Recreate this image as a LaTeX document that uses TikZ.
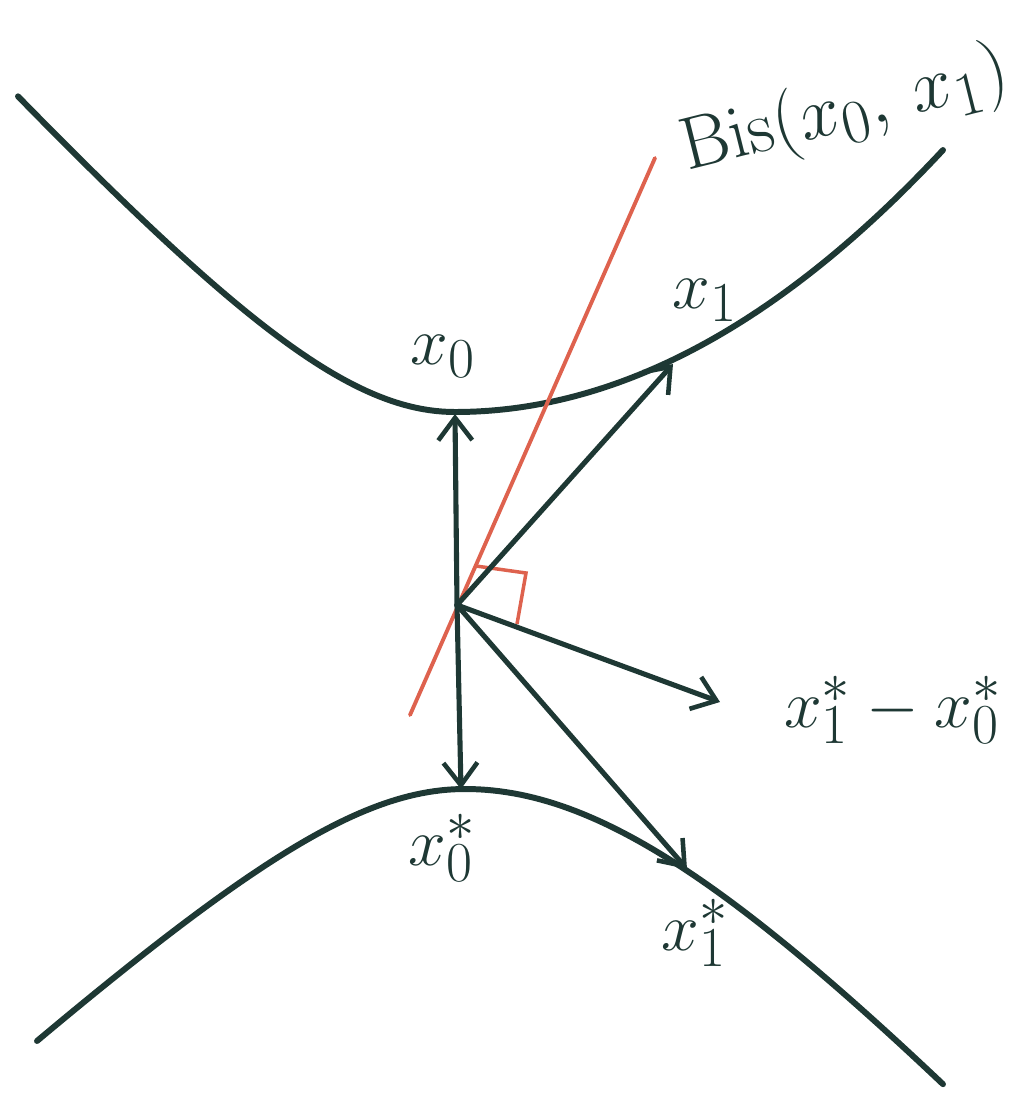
\documentclass[tikz,border=0pt]{standalone}
\usetikzlibrary{arrows.meta}
\definecolor{ink}{RGB}{30,56,52}
\definecolor{redink}{RGB}{222,98,78}
\tikzset{
  curveline/.style={draw=ink, line width=3.4pt, line cap=round, line join=round},
  vecarrow/.style={draw=ink, line width=2.9pt, line cap=round,
    -{Straight Barb[length=0.45cm, width=0.68cm, line width=2.6pt]}},
  bisline/.style={draw=redink, line width=2.2pt, line cap=round},
  anglemark/.style={draw=redink, line width=2pt},
  lbl/.style={text=ink, inner sep=0pt, font=\Huge, scale=1.55},
  bislbl/.style={text=ink, inner sep=0pt, font=\Huge, scale=1.7},
}
\begin{document}
\begin{tikzpicture}[x=0.02cm, y=-0.02cm]
\useasboundingbox (0,0) rectangle (1033,1103);
% points
\coordinate (O) at (457,605);
\coordinate (X0) at (455,414);
\coordinate (X1) at (673,364);
\coordinate (D) at (720,702);
\coordinate (X0s) at (461,789);
\coordinate (X1s) at (687,869);
\coordinate (R1) at (410,715);
\coordinate (R2) at (655,158);
\coordinate (A1) at (476,566);
\coordinate (A2) at (526,573);
\coordinate (A3) at (517,624);
% curves
\draw[curveline] plot[domain=18:455, samples=70]
    (\x, {412-225*(sqrt(1+((\x-455)/200)*((\x-455)/200))-1)})
  -- plot[domain=455:943, samples=70]
    (\x, {412-11*((\x-455)/100)*((\x-455)/100)});
\draw[curveline] plot[domain=37:465, samples=70]
    (\x, {789+185*(sqrt(1+((\x-465)/200)*((\x-465)/200))-1)})
  -- plot[domain=465:943, samples=70]
    (\x, {789+335*(sqrt(1+((\x-465)/300)*((\x-465)/300))-1)});
% bisector
\draw[bisline] (R1) -- (R2);
\draw[anglemark] (A1) -- (A2) -- (A3);
% vectors
\draw[vecarrow] (O) -- (X0);
\draw[vecarrow] (O) -- (X1);
\draw[vecarrow] (O) -- (D);
\draw[vecarrow] (O) -- (X0s);
\draw[vecarrow] (O) -- (X1s);
% labels
\node[bislbl, rotate=14] (lbis) at (845,112) {$\mathrm{Bis}(x_0,\, x_1)$};
\node[lbl] (lx0) at (443,356) {$x_0$};
\node[lbl] (lx1) at (705,300) {$x_1$};
\node[lbl] (ld) at (893,710) {$x_1^* - x_0^*$};
\node[lbl] (lx0s) at (442,848) {$x_0^*$};
\node[lbl] (lx1s) at (695,933) {$x_1^*$};
\end{tikzpicture}
\end{document}
